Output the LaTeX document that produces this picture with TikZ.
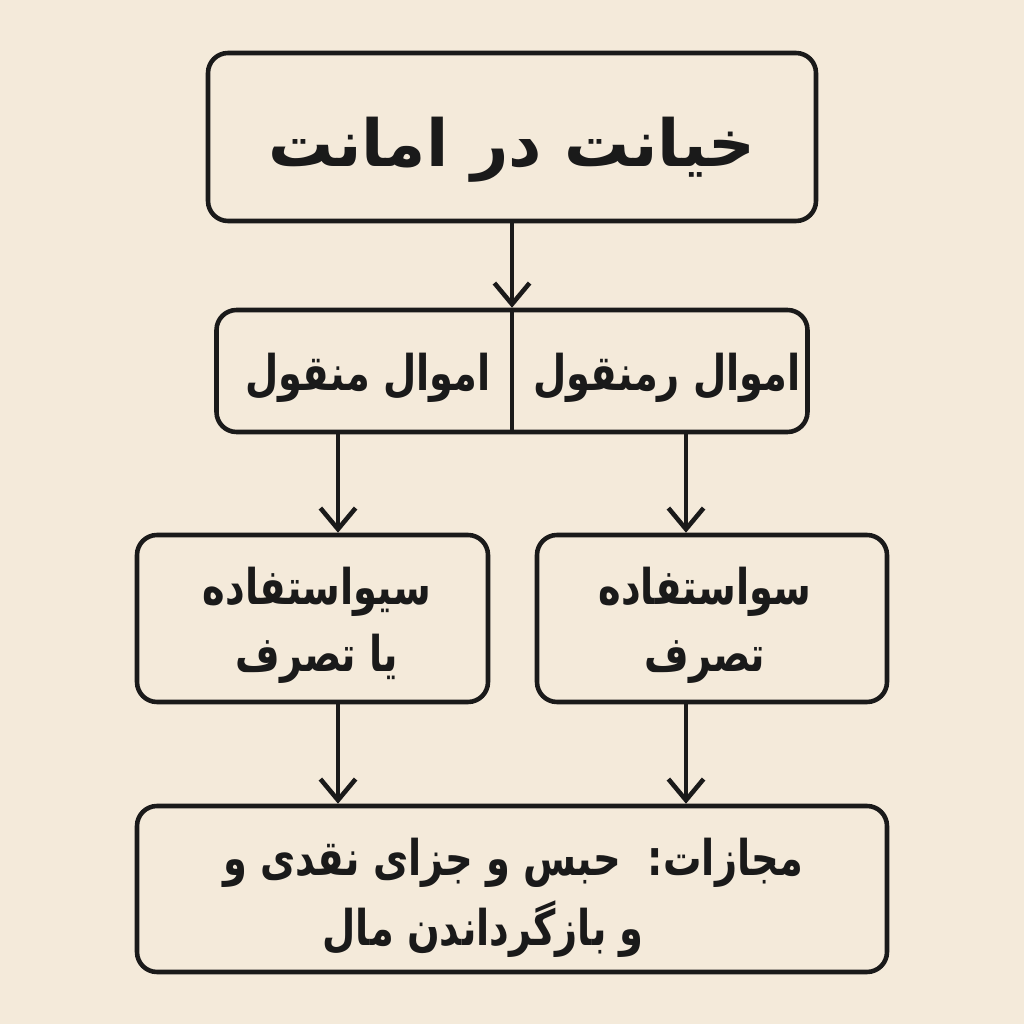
\documentclass[tikz,border=0pt]{standalone}
\usepackage{fontspec}
\usetikzlibrary{arrows.meta}
\newfontfamily\farsi[Script=Arabic]{DejaVu Sans}
\newfontfamily\farsinarrow[Script=Arabic, FakeStretch=0.78]{DejaVu Sans}
\TeXXeTstate=1
\definecolor{paper}{HTML}{F4EADA}
\definecolor{ink}{HTML}{1A1A1A}
\tikzset{
  box/.style={draw=ink, line width=1.3pt, rounded corners=5.7pt, fill=paper, inner sep=0pt},
  word/.style={inner sep=0pt, text=ink, align=center,
    font=\farsinarrow\bfseries\fontsize{14}{19}\selectfont},
  arr/.style={draw=ink, line width=1.3pt, -{Straight Barb[length=6pt,width=10pt]}},
}
\begin{document}
\begin{tikzpicture}
\fill[paper] (0,0) rectangle (10.24,10.24);
\useasboundingbox (0,0) rectangle (10.24,10.24);
% top
\node[box, minimum width=6.08cm, minimum height=1.68cm] (title) at (5.12,8.87) {};
\node[word, font=\farsi\bfseries\fontsize{18.5}{22}\selectfont] (heading) at (5.12,8.74)
  {\beginR خیانت در امانت\endR};
% kinds of property
\node[box, minimum width=5.91cm, minimum height=1.22cm] (kinds) at (5.12,6.53) {};
\draw[ink, line width=1.3pt] (kinds.north) -- (kinds.south);
\node[word] (movable) at (3.68,6.46) {\beginR اموال منقول\endR};
\node[word] (immovable) at (6.67,6.46) {\beginR اموال رمنقول\endR};
% acts
\node[box, minimum width=3.51cm, minimum height=1.67cm] (misuse) at (3.125,4.055) {};
\node[word] (misusetext) at (3.17,3.99) {\beginR سیواستفاده\endR\\\beginR یا تصرف\endR};
\node[box, minimum width=3.5cm, minimum height=1.67cm] (seize) at (7.12,4.055) {};
\node[word] (seizetext) at (7.05,3.99) {\beginR سواستفاده\endR\\\beginR تصرف\endR};
% penalty
\node[box, minimum width=7.5cm, minimum height=1.66cm] (penalty) at (5.12,1.35) {};
\node[word, font=\farsinarrow\bfseries\fontsize{14}{20}\selectfont] (penaltytext) at (5.13,1.26)
  {\beginR مجازات:~~حبس و جزای نقدی و\endR\\\beginR و بازگرداندن مال\endR\hspace*{0.6cm}};
\coordinate (lcol) at (3.38,0);
\coordinate (rcol) at (6.86,0);
\draw[arr] (title) -- (kinds);
\draw[arr] (kinds.south -| lcol) -- (misuse.north -| lcol);
\draw[arr] (kinds.south -| rcol) -- (seize.north -| rcol);
\draw[arr] (misuse.south -| lcol) -- (penalty.north -| lcol);
\draw[arr] (seize.south -| rcol) -- (penalty.north -| rcol);
\end{tikzpicture}
\end{document}
